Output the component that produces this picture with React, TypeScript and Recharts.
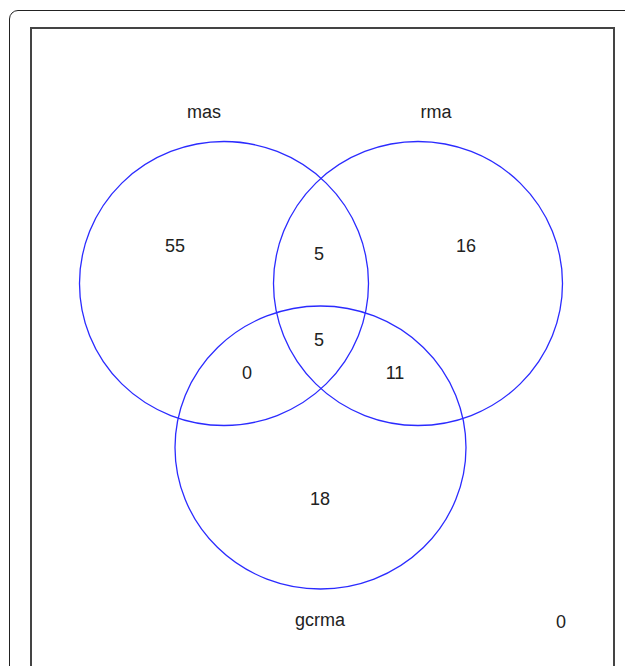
import { ScatterChart, Scatter, XAxis, YAxis } from "recharts";

// sets (drawn slightly squashed, as in the source image)
const setNames = ["mas", "rma", "gcrma"];
const circleX = [224, 418, 320.5];
const circleY = [283.5, 283.5, 447.5];
const circleRx = [144.5, 144.5, 145.5];
const circleRy = [142, 142, 141.5];

// set name labels
const nameX = [204, 436, 320];
const nameY = [112, 112, 620];

// region counts: mas only, mas∩rma, rma only, mas∩gcrma, all, rma∩gcrma, gcrma only, none
const regionCounts = [55, 5, 16, 0, 5, 11, 18, 0];
const regionX = [175, 319, 466, 247, 319, 395, 320, 561];
const regionY = [246, 254, 246, 373, 340, 373, 499, 622];

const W = 625;
const H = 666;

const circles = setNames.map((name, i) => ({
  name,
  x: circleX[i],
  y: circleY[i],
  rx: circleRx[i],
  ry: circleRy[i],
}));
const names = setNames.map((name, i) => ({ text: name, x: nameX[i], y: nameY[i] }));
const counts = regionCounts.map((v, i) => ({ text: String(v), x: regionX[i], y: regionY[i] }));

const FONT = "'Liberation Sans', Arial, sans-serif";

function CircleShape(props: any) {
  const { cx, cy, payload } = props;
  // domain is 1 unit = 1 px
  return (
    <ellipse cx={cx} cy={cy} rx={payload.rx} ry={payload.ry} fill="none" stroke="#2b2bff" strokeWidth={1.3} />
  );
}

function TextShape(props: any) {
  const { cx, cy, payload } = props;
  return (
    <text
      x={cx}
      y={cy}
      textAnchor="middle"
      dominantBaseline="central"
      fontFamily={FONT}
      fontSize={18}
      fill="#222"
    >
      {payload.text}
    </text>
  );
}

export default function App() {
  return (
    <div style={{ position: "absolute", left: 0, top: 0, width: W, height: H, overflow: "hidden", background: "#fff" }}>
      <div
        style={{
          position: "absolute",
          left: 9,
          top: 10,
          width: W,
          height: H,
          border: "1px solid #222",
          borderRadius: 9,
        }}
      />
      <div
        style={{
          position: "absolute",
          left: 30,
          top: 27,
          width: 581,
          height: H,
          border: "2px solid #444",
        }}
      />
      <div style={{ position: "absolute", left: 0, top: 0 }}>
        <ScatterChart width={W} height={H} margin={{ top: 0, right: 0, bottom: 0, left: 0 }}>
          <XAxis type="number" dataKey="x" domain={[0, W]} hide />
          <YAxis type="number" dataKey="y" domain={[0, H]} reversed hide />
          <Scatter data={circles} shape={<CircleShape />} isAnimationActive={false} />
          <Scatter data={names} shape={<TextShape />} isAnimationActive={false} />
          <Scatter data={counts} shape={<TextShape />} isAnimationActive={false} />
        </ScatterChart>
      </div>
    </div>
  );
}
